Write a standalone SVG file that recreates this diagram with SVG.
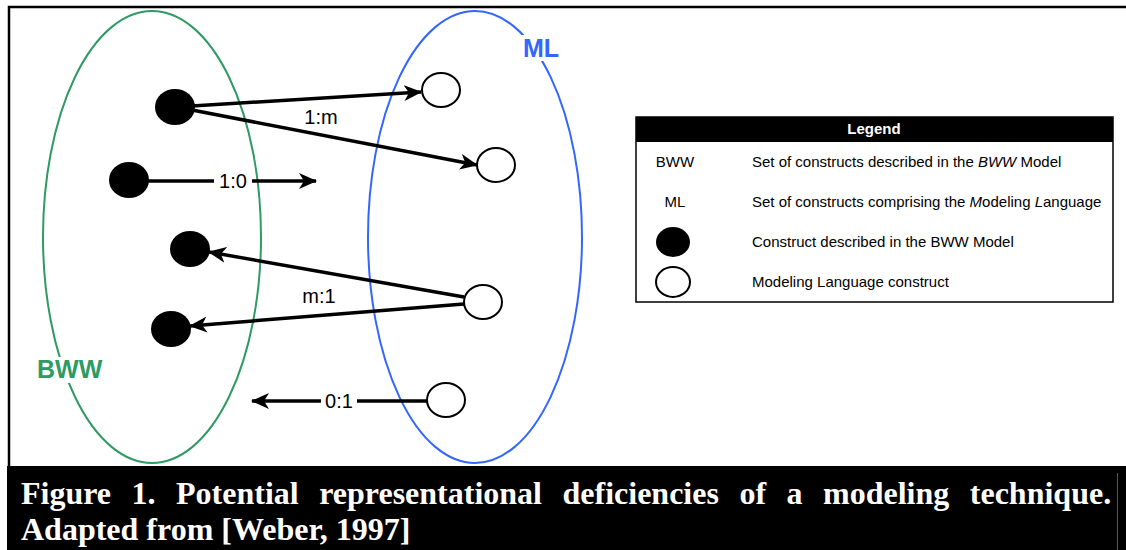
<svg xmlns="http://www.w3.org/2000/svg" width="1126" height="550" viewBox="0 0 1126 550">
  <style>
    .lbl { font-family: "Liberation Sans", Arial, sans-serif; font-size: 20px; fill: #000; }
    .set { font-family: "Liberation Sans", Arial, sans-serif; font-size: 25px; font-weight: bold; }
    .leg { font-family: "Liberation Sans", Arial, sans-serif; font-size: 15px; fill: #000; }
    .cap { font-family: "Liberation Serif", "Times New Roman", serif; font-size: 32px; font-weight: bold; fill: #fff; }
    .bww { fill: #000; }
    .ml { fill: #fff; stroke: #000; stroke-width: 2; }
    .conn { stroke: #000; stroke-width: 3.5; fill: none; marker-end: url(#arrow); }
  </style>
  <defs>
    <marker id="arrow" markerUnits="userSpaceOnUse" markerWidth="18" markerHeight="16" refX="17" refY="8" orient="auto">
      <path d="M0,0 L18,8 L0,16 L5,8 Z" fill="#000"/>
    </marker>
  </defs>

  <rect width="1126" height="550" fill="#fff"/>

  <!-- frame around the drawing area -->
  <path d="M9,467 V7 H1126" fill="none" stroke="#000" stroke-width="2.5"/>

  <!-- the two construct sets -->
  <g id="set-bww">
    <ellipse cx="152" cy="237" rx="109" ry="226" fill="none" stroke="#2e9a64" stroke-width="2"/>
    <rect x="35" y="357" width="72" height="26" fill="#fff"/>
    <text class="set" x="37" y="378" fill="#2e9a64">BWW</text>
  </g>
  <g id="set-ml">
    <ellipse cx="475" cy="237" rx="107" ry="226" fill="none" stroke="#3366ff" stroke-width="2"/>
    <rect x="520" y="35" width="42" height="26" fill="#fff"/>
    <text class="set" x="523" y="57" fill="#3366ff">ML</text>
  </g>

  <!-- connectors -->
  <g id="connectors">
    <line class="conn" x1="192" y1="106" x2="421" y2="92"/>
    <line class="conn" x1="192" y1="110" x2="477" y2="165"/>
    <line class="conn" x1="147" y1="181" x2="316" y2="181"/>
    <line class="conn" x1="464" y1="297" x2="209" y2="252"/>
    <line class="conn" x1="464" y1="304" x2="190" y2="326"/>
    <line class="conn" x1="428" y1="401" x2="252" y2="401"/>
    <text class="lbl" x="321" y="124" text-anchor="middle">1:m</text>
    <rect x="214" y="170" width="38" height="22" fill="#fff"/>
    <text class="lbl" x="233" y="188" text-anchor="middle">1:0</text>
    <text class="lbl" x="319" y="303" text-anchor="middle">m:1</text>
    <rect x="321" y="390" width="36" height="22" fill="#fff"/>
    <text class="lbl" x="339" y="408" text-anchor="middle">0:1</text>
  </g>

  <!-- BWW constructs -->
  <g id="bww-1"><ellipse class="bww" cx="175" cy="107" rx="20" ry="18"/></g>
  <g id="bww-2"><ellipse class="bww" cx="129" cy="180" rx="20" ry="18"/></g>
  <g id="bww-3"><ellipse class="bww" cx="190" cy="249" rx="20" ry="18"/></g>
  <g id="bww-4"><ellipse class="bww" cx="171" cy="329" rx="20" ry="18"/></g>

  <!-- modeling language constructs -->
  <g id="ml-1"><ellipse class="ml" cx="441" cy="90" rx="19" ry="17"/></g>
  <g id="ml-2"><ellipse class="ml" cx="496" cy="165" rx="19" ry="17"/></g>
  <g id="ml-3"><ellipse class="ml" cx="483" cy="302" rx="19" ry="17"/></g>
  <g id="ml-4"><ellipse class="ml" cx="446" cy="400" rx="19" ry="17"/></g>

  <!-- legend -->
  <g id="legend">
    <rect x="636" y="117" width="477" height="185" fill="#fff" stroke="#000" stroke-width="1.5"/>
    <rect x="636" y="117" width="477" height="25" fill="#000"/>
    <text class="leg" x="874" y="134" text-anchor="middle" font-weight="bold" style="fill:#fff">Legend</text>
    <text class="leg" x="675" y="167" text-anchor="middle">BWW</text>
    <text class="leg" x="752" y="167">Set of constructs described in the <tspan font-style="italic">BWW</tspan> Model</text>
    <text class="leg" x="675" y="207" text-anchor="middle">ML</text>
    <text class="leg" x="752" y="207">Set of constructs comprising the <tspan font-style="italic">M</tspan>odeling <tspan font-style="italic">L</tspan>anguage</text>
    <ellipse class="bww" cx="673" cy="242" rx="17" ry="15"/>
    <text class="leg" x="752" y="247">Construct described in the BWW Model</text>
    <ellipse class="ml" cx="673" cy="282" rx="17" ry="15"/>
    <text class="leg" x="752" y="287">Modeling Language construct</text>
  </g>

  <!-- caption, first line justified with word spacing -->
  <g id="caption">
    <rect x="7" y="466" width="1119" height="84" fill="#000"/>
    <line x1="1117.5" y1="473" x2="1117.5" y2="550" stroke="#555" stroke-width="1"/>
    <text class="cap" x="21" y="504" word-spacing="12.5">Figure 1. Potential representational deficiencies of a modeling technique.</text>
    <text class="cap" x="21" y="540">Adapted from [Weber, 1997]</text>
  </g>
</svg>
